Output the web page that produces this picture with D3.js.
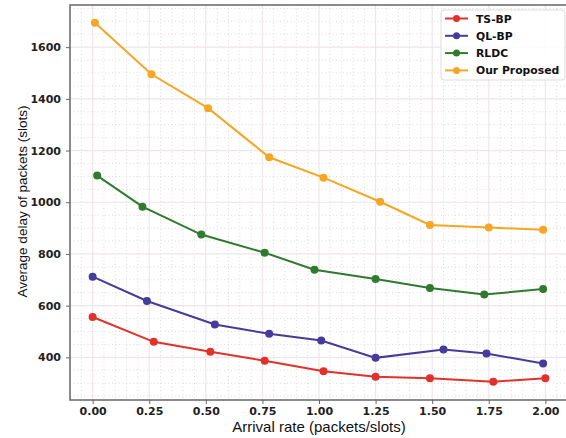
<!DOCTYPE html>
<html lang="en">
<head>
  <meta charset="UTF-8">
  <title>Average delay vs arrival rate</title>
  <style>
    body { margin: 0; background: #fff; }
    .tick text { font-family: "DejaVu Sans", sans-serif; font-weight: bold; font-size: 11px; fill: #222; }
  </style>
</head>
<body>
<script src="https://d3js.org/d3.v7.min.js"></script>
<div id="d3_chart"></div>
<script>
    // data
    const seriesNames = ["TS-BP", "QL-BP", "RLDC", "Our Proposed"];
    const seriesColors = ["#e0322b", "#463a9a", "#2f7a2f", "#f5a623"];

    const tsbpX = [0.00, 0.27, 0.52, 0.76, 1.02, 1.25, 1.49, 1.77, 2.00];
    const tsbpY = [556, 460, 422, 387, 346, 325, 319, 306, 319];

    const qlbpX = [0.00, 0.24, 0.54, 0.78, 1.01, 1.25, 1.55, 1.74, 1.99];
    const qlbpY = [712, 618, 527, 491, 465, 398, 430, 415, 376];

    const rldcX = [0.02, 0.22, 0.48, 0.76, 0.98, 1.25, 1.49, 1.73, 1.99];
    const rldcY = [1103, 983, 875, 805, 739, 703, 668, 643, 664];

    const oursX = [0.01, 0.26, 0.51, 0.78, 1.02, 1.27, 1.49, 1.75, 1.99];
    const oursY = [1694, 1495, 1364, 1174, 1095, 1002, 912, 902, 894];

    const xTicks = [0, 0.25, 0.5, 0.75, 1.0, 1.25, 1.5, 1.75, 2.0];
    const yTicks = [400, 600, 800, 1000, 1200, 1400, 1600];

    const allX = [tsbpX, qlbpX, rldcX, oursX];
    const allY = [tsbpY, qlbpY, rldcY, oursY];
    const series = seriesNames.map((name, i) => ({
      name: name,
      color: seriesColors[i],
      values: allX[i].map((x, j) => ({x: x, y: allY[i][j]}))
    }));

    // dimensions
    const W = 566, H = 438;
    const margin = {top: 5, right: -2, bottom: 38, left: 70},
        width = W - margin.left - margin.right,
        height = H - margin.top - margin.bottom;

    const svg = d3.select("#d3_chart")
      .append("svg")
        .attr("width", W)
        .attr("height", H)
        .style("display", "block");

    const g = svg.append("g")
        .attr("transform", `translate(${margin.left},${margin.top})`);

    // scales, matplotlib style 5% margins
    const x = d3.scaleLinear().domain([-0.1, 2.1]).range([0, width]);
    const y = d3.scaleLinear().domain([235, 1763]).range([height, 0]);

    // minor grid (dotted)
    const xMinor = d3.range(-0.05, 2.1, 0.05).filter(v => Math.abs(v * 4 - Math.round(v * 4)) > 1e-6);
    const yMinor = d3.range(250, 1763, 50).filter(v => v % 200 !== 0);
    g.append("g").selectAll("line").data(xMinor).join("line")
      .attr("x1", d => x(d)).attr("x2", d => x(d))
      .attr("y1", 0).attr("y2", height)
      .attr("stroke", "#d9d0d0").attr("stroke-width", 0.8).attr("stroke-dasharray", "1,2.5");
    g.append("g").selectAll("line").data(yMinor).join("line")
      .attr("y1", d => y(d)).attr("y2", d => y(d))
      .attr("x1", 0).attr("x2", width)
      .attr("stroke", "#d9d0d0").attr("stroke-width", 0.8).attr("stroke-dasharray", "1,2.5");

    // major grid
    g.append("g").selectAll("line").data(xTicks).join("line")
      .attr("x1", d => x(d)).attr("x2", d => x(d))
      .attr("y1", 0).attr("y2", height)
      .attr("stroke", "#eee6e6").attr("stroke-width", 1.2);
    g.append("g").selectAll("line").data(yTicks).join("line")
      .attr("y1", d => y(d)).attr("y2", d => y(d))
      .attr("x1", 0).attr("x2", width)
      .attr("stroke", "#eee6e6").attr("stroke-width", 1.2);

    // axes
    const xAxis = g.append("g")
      .attr("transform", `translate(0,${height})`)
      .call(d3.axisBottom(x).tickValues(xTicks).tickFormat(d3.format(".2f")).tickSize(4).tickPadding(3));
    const yAxis = g.append("g")
      .call(d3.axisLeft(y).tickValues(yTicks).tickFormat(d3.format("d")).tickSize(4).tickPadding(5));
    [xAxis, yAxis].forEach(a => {
      a.select(".domain").remove();
      a.selectAll(".tick line").attr("stroke", "#666").attr("stroke-width", 1);
    });

    // frame
    g.append("rect")
      .attr("x", 0).attr("y", 0).attr("width", width).attr("height", height)
      .attr("fill", "none").attr("stroke", "#666").attr("stroke-width", 1.5);

    // lines + markers
    const line = d3.line().x(d => x(d.x)).y(d => y(d.y));
    series.forEach(s => {
      g.append("path").datum(s.values)
        .attr("d", line)
        .attr("fill", "none")
        .attr("stroke", s.color)
        .attr("stroke-width", 2);
      g.append("g").selectAll("circle").data(s.values).join("circle")
        .attr("cx", d => x(d.x)).attr("cy", d => y(d.y))
        .attr("r", 4)
        .attr("fill", s.color);
    });

    // axis titles
    svg.append("text")
      .attr("x", margin.left + width / 2)
      .attr("y", 432)
      .attr("text-anchor", "middle")
      .style("font-family", "'Liberation Sans', Arial, sans-serif")
      .style("font-size", "15px")
      .style("fill", "#111")
      .text("Arrival rate (packets/slots)");

    svg.append("text")
      .attr("transform", `translate(27,${margin.top + height / 2 - 1}) rotate(-90)`)
      .attr("text-anchor", "middle")
      .style("font-family", "'Liberation Sans', Arial, sans-serif")
      .style("font-size", "13.5px")
      .style("fill", "#111")
      .text("Average delay of packets (slots)");

    // legend
    const legend = svg.append("g").attr("transform", "translate(441,10)");
    legend.append("rect")
      .attr("width", 124).attr("height", 70)
      .attr("rx", 3)
      .attr("fill", "#fff").attr("fill-opacity", 0.85)
      .attr("stroke", "#ddd");
    series.forEach((s, i) => {
      const ly = 8.5 + i * 17.3;
      legend.append("line")
        .attr("x1", 4).attr("x2", 27).attr("y1", ly).attr("y2", ly)
        .attr("stroke", s.color).attr("stroke-width", 2);
      legend.append("circle")
        .attr("cx", 15.5).attr("cy", ly).attr("r", 3.5).attr("fill", s.color);
      legend.append("text")
        .attr("x", 35).attr("y", ly + 4)
        .style("font-family", "'DejaVu Sans', sans-serif")
        .style("font-weight", "bold")
        .style("font-size", "10.8px")
        .style("fill", "#111")
        .text(s.name);
    });
</script>
</body>
</html>
